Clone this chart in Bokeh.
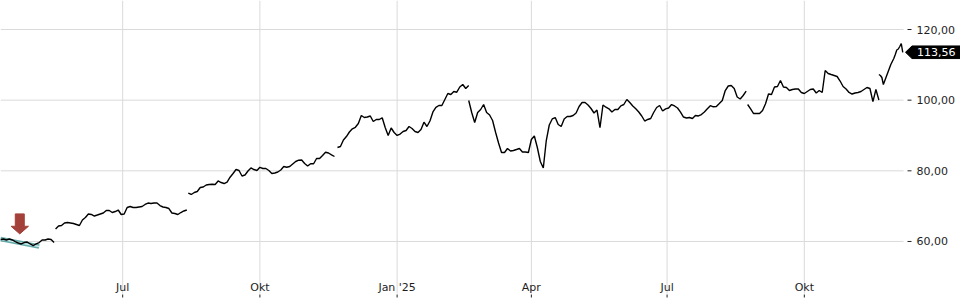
import pandas as pd
from bokeh.plotting import figure
from bokeh.models import Range1d
from bokeh.core.properties import value
from bokeh.embed import file_html
from bokeh.resources import INLINE

# ---------------- data ----------------
# price history, split where the reference line has breaks
seg_start = ["2024-04-10", "2024-05-17", "2024-08-14", "2024-11-22",
             "2025-02-18", "2025-08-24", "2025-11-20"]
seg_step_days = [2, 2, 2, 2, 2, 2, 1]

seg_a = [60.56, 60.70, 60.42, 60.70, 60.42, 59.99, 59.57, 59.29, 59.71, 59.85,
         59.29, 58.86, 59.29, 59.71, 60.42, 60.42, 60.70, 60.56, 59.71]
seg_b = [63.53, 64.38, 64.52, 65.23, 65.37, 65.23, 65.09, 64.81, 64.52, 66.08,
         66.79, 67.78, 67.64, 67.21, 67.49, 67.78, 68.06, 68.77, 68.77, 68.20,
         68.48, 68.91, 67.64, 67.78, 69.62, 69.90, 69.62, 69.62, 69.76, 69.90,
         70.47, 70.89, 70.75, 70.89, 70.89, 70.18, 69.76, 69.62, 69.33, 68.06,
         67.92, 67.64, 68.20, 68.63, 68.91]
seg_c = [73.72, 73.30, 73.86, 74.15, 75.28, 75.42, 75.99, 76.13, 76.21, 76.13,
         77.12, 76.69, 76.41, 76.83, 78.19, 79.24, 80.37, 80.09, 78.53, 78.82,
         79.95, 80.80, 80.37, 80.09, 81.00, 80.66, 80.66, 80.09, 79.24, 79.38,
         79.67, 80.23, 81.22, 81.02, 81.22, 81.93, 82.64, 83.01, 83.06, 82.07,
         81.36, 82.01, 82.01, 83.49, 83.49, 84.34, 85.27, 85.04, 84.53, 84.05]
seg_d = [86.60, 86.88, 88.72, 89.71, 90.99, 91.89, 92.32, 93.39, 95.66, 95.09,
         95.23, 95.52, 93.96, 94.53, 94.53, 95.01, 92.26, 90.00, 92.12, 90.85,
         90.00, 90.42, 91.13, 91.41, 92.54, 91.98, 91.13, 90.85, 91.70, 93.76,
         92.54, 94.10, 96.65, 97.98, 98.49, 98.49, 100.19, 101.88, 101.60, 102.45,
         102.25, 103.72, 104.43, 103.30, 104.15]
seg_e = [99.90, 96.51, 93.68, 96.51, 97.36, 98.77, 96.51, 95.80, 94.24, 90.93,
         87.87, 85.18, 85.18, 86.32, 85.61, 85.75, 86.03, 86.32, 85.33, 85.33,
         85.18, 88.86, 89.86, 86.60, 82.64, 80.80, 88.58, 92.97, 94.67, 95.09,
         93.11, 92.54, 94.67, 95.37, 95.37, 95.66, 96.37, 98.21, 99.34, 99.34,
         98.63, 97.64, 96.37, 97.21, 92.20, 98.63, 98.01, 97.55, 96.65, 97.36,
         97.36, 98.40, 98.77, 100.19, 99.34, 98.35, 97.55, 96.65, 95.52, 94.10,
         94.53, 94.81, 96.51, 97.92, 98.49, 96.93, 97.55, 97.78, 98.77, 98.35,
         97.78, 96.59, 95.23, 94.95, 95.09, 94.81, 95.66, 95.52, 95.94, 96.65,
         97.55, 98.43, 98.12, 98.21, 99.05, 99.90, 102.73, 104.01, 104.15, 103.30,
         100.89, 100.33, 101.32, 102.54]
seg_g = [98.77, 97.55, 96.22, 96.22, 96.22, 97.07, 98.97, 101.74, 101.60, 103.72,
         103.87, 105.56, 103.72, 103.58, 102.73, 103.02, 103.16, 103.16, 102.17, 101.88,
         102.45, 103.02, 103.16, 102.03, 102.73, 102.17, 108.39, 107.55, 107.26, 106.98,
         106.70, 105.42, 103.87, 103.16, 102.17, 101.74, 102.03, 102.17, 102.45, 103.02,
         103.58, 103.30, 99.60, 103.02, 100.04]
seg_h = [107.26, 106.98, 106.41, 104.43, 105.56, 106.70, 107.83, 108.96, 110.09,
         110.94, 111.79, 112.92, 114.20, 114.48, 115.19, 116.04, 113.56]
segments = [seg_a, seg_b, seg_c, seg_d, seg_e, seg_g, seg_h]

tick_dates = ["2024-07-01", "2024-10-01", "2025-01-01", "2025-04-01", "2025-07-01", "2025-10-01"]
tick_labels = ["Jul", "Okt", "Jan '25", "Apr", "Jul", "Okt"]
y_ticks = [60, 80, 100, 120]
y_tick_labels = ["60,00", "80,00", "100,00", "120,00"]

last_price = 113.56
last_price_text = "113,56"
signal_date = "2024-04-23"
signal_price = 59.6
band_dates = ["2024-04-10", "2024-05-06"]
band_values = [60.70, 58.60]

# ---------------- layout ----------------
W, H = 960, 300
PLOT_W = 903                      # width of the price area (px)
x_start = pd.Timestamp("2024-04-10 02:00")
x_plot_end = pd.Timestamp("2025-12-06 12:00")
ms_per_px = (x_plot_end - x_start).total_seconds() * 1000 / PLOT_W
x_start_ms = x_start.value // 10**6
y_top = 128.21
px_val = 0.28305                  # value units per pixel
y_bottom = y_top - H * px_val

def xpx(px):
    return x_start_ms + px * ms_per_px

def ypx(px):
    return y_top - px * px_val

FONT = "DejaVu Sans"
TXT = "#1e1e1e"
GRID = "#dadada"

p = figure(width=W, height=H, x_axis_type="datetime",
           x_range=Range1d(x_start_ms, xpx(W)), y_range=Range1d(y_bottom, y_top),
           output_backend="svg", toolbar_location=None,
           min_border_left=0, min_border_top=0, min_border_right=0, min_border_bottom=0)
p.xaxis.visible = False
p.yaxis.visible = False
p.grid.visible = False
p.outline_line_color = None
p.background_fill_color = "white"
p.border_fill_color = "white"

tick_ms = [pd.Timestamp(d).value // 10**6 for d in tick_dates]
n_x = len(tick_ms)
n_y = len(y_ticks)

# grid lines
p.segment(x0=tick_ms, y0=[ypx(293)] * n_x, x1=tick_ms, y1=[y_top] * n_x,
          line_color=GRID, line_width=1)
p.segment(x0=[x_start_ms] * n_y, y0=y_ticks, x1=[xpx(PLOT_W)] * n_y, y1=y_ticks,
          line_color=GRID, line_width=1)

# x axis: tick marks below the month labels
p.segment(x0=tick_ms, y0=[ypx(294)] * n_x, x1=tick_ms, y1=[ypx(297)] * n_x,
          line_color="#222222", line_width=1)
p.text(x=tick_ms, y=[ypx(287)] * n_x, text=tick_labels,
       text_align="center", text_baseline="middle", text_font=value(FONT),
       text_font_size="11px", text_color=TXT)

# y axis on the right
p.segment(x0=[xpx(907)] * n_y, y0=y_ticks, x1=[xpx(911)] * n_y, y1=y_ticks,
          line_color="#222222", line_width=1)
p.text(x=[xpx(916)] * n_y, y=y_ticks, text=y_tick_labels,
       text_align="left", text_baseline="middle", text_font=value(FONT),
       text_font_size="11px", text_color=TXT)

# teal band under the first weeks
bd = pd.to_datetime(band_dates)
p.line(bd, band_values, color="#4e9c9c", line_width=4.5, alpha=0.85)
p.line(bd, band_values, color="#c8ecec", line_width=1.5)

# price line
for start, step, vals in zip(seg_start, seg_step_days, segments):
    dates = pd.date_range(start, periods=len(vals), freq=f"{step}D")
    p.line(dates, vals, color="black", line_width=1.4)

# signal arrow (shape in pixel offsets, converted with the scales)
sig_ms = pd.Timestamp(signal_date).value // 10**6
tip = signal_price + 9 * px_val
shape = [(0, 0), (8.7, 7.6), (4.5, 7.6), (4.5, 20), (-4.5, 20), (-4.5, 7.6), (-8.7, 7.6)]
p.patch([sig_ms + dx * ms_per_px for dx, dy in shape],
        [tip + dy * px_val for dx, dy in shape],
        color="#a3413a", line_color="#a3413a")

# last price tag
tag = [(905, 0), (911.5, -6.3), (W, -6.3), (W, 6.3), (911.5, 6.3)]
p.patch([xpx(px) for px, dy in tag], [last_price + dy * px_val for px, dy in tag],
        color="black", line_color="black")
p.text(x=[xpx(916.5)], y=[last_price], text=[last_price_text],
       text_align="left", text_baseline="middle", text_font=value(FONT),
       text_font_size="11px", text_color="white")

open("out.html", "w").write(file_html(p, INLINE))
